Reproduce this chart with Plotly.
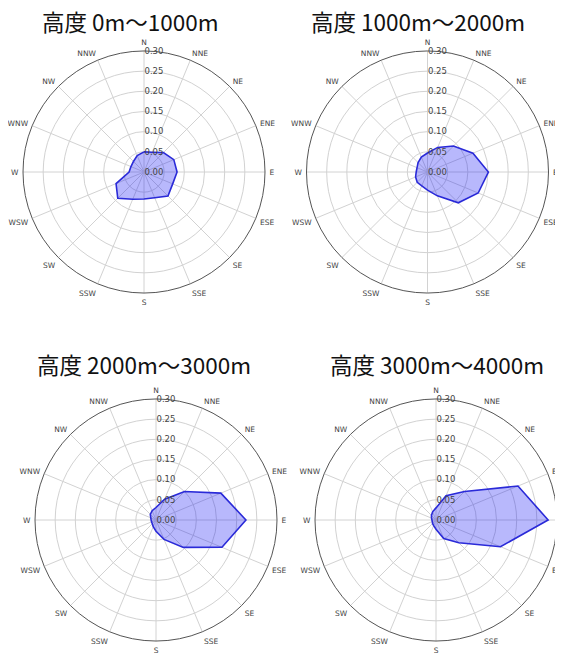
import plotly.graph_objects as go

directions = ["N", "NNE", "NE", "ENE", "E", "ESE", "SE", "SSE",
              "S", "SSW", "SW", "WSW", "W", "WNW", "NW", "NNW"]

titles = ["高度 0m～1000m", "高度 1000m～2000m", "高度 2000m～3000m", "高度 3000m～4000m"]

freq_0_1000 = [0.050, 0.053, 0.068, 0.080, 0.082, 0.077, 0.084, 0.069,
               0.067, 0.073, 0.092, 0.075, 0.037, 0.035, 0.037, 0.044]
freq_1000_2000 = [0.047, 0.066, 0.091, 0.122, 0.151, 0.136, 0.108, 0.064,
                  0.045, 0.037, 0.036, 0.032, 0.028, 0.028, 0.033, 0.040]
freq_2000_3000 = [0.031, 0.056, 0.100, 0.174, 0.223, 0.177, 0.096, 0.052,
                  0.028, 0.018, 0.013, 0.012, 0.012, 0.014, 0.020, 0.025]
freq_3000_4000 = [0.030, 0.065, 0.100, 0.220, 0.278, 0.173, 0.080, 0.050,
                  0.023, 0.015, 0.012, 0.010, 0.010, 0.012, 0.016, 0.022]

radial_ticks = [0.00, 0.05, 0.10, 0.15, 0.20, 0.25, 0.30]

series = [freq_0_1000, freq_1000_2000, freq_2000_3000, freq_3000_4000]

W, H = 563, 655
OFF = 8  # page body margin offset
# centers (screen px) and radius of each polar panel
centers = [(144, 172), (427.5, 172), (156, 520), (436, 520)]
R = 121
title_pos = [(130, 21), (418, 21), (144, 364), (436.5, 364)]

fig = go.Figure()
layout = dict(width=W, height=H, margin=dict(l=0, r=0, t=0, b=0),
              paper_bgcolor="white", plot_bgcolor="white", showlegend=False,
              font=dict(family="DejaVu Sans", color="#444"))
annotations = []
for i, vals in enumerate(series):
    name = "polar" if i == 0 else f"polar{i+1}"
    cx, cy = centers[i]
    cx -= OFF
    cy -= OFF
    fig.add_trace(go.Scatterpolar(
        r=vals + [vals[0]], theta=directions + [directions[0]],
        mode="lines", fill="toself",
        fillcolor="rgba(20,20,245,0.30)",
        line=dict(color="#2a2ad8", width=1.6),
        subplot=name, hoverinfo="skip"))
    layout[name] = dict(
        domain=dict(x=[(cx - R) / W, (cx + R) / W],
                    y=[(H - cy - R) / H, (H - cy + R) / H]),
        bgcolor="white",
        angularaxis=dict(direction="clockwise", rotation=90,
                         type="category", categoryarray=directions,
                         showline=True, linecolor="#555", linewidth=1,
                         gridcolor="#d2d2d2", gridwidth=1,
                         ticks="outside", ticklen=2.5, tickcolor="rgba(0,0,0,0)",
                         tickfont=dict(size=7.5, color="#444")),
        radialaxis=dict(range=[0, 0.30], tickvals=radial_ticks,
                        tickformat=".2f", angle=90, tickangle=90,
                        showline=False, gridcolor="#d2d2d2", gridwidth=1,
                        ticks="", tickfont=dict(size=8.5, color="#444")),
    )
    tx, ty = title_pos[i]
    annotations.append(dict(text=titles[i], x=(tx - OFF) / W, y=1 - (ty - OFF) / H,
                            xref="paper", yref="paper", showarrow=False,
                            xanchor="center", yanchor="middle",
                            font=dict(family="Noto Sans CJK JP", size=22.5, color="#111")))
layout["annotations"] = annotations
fig.update_layout(**layout)
fig.write_html("out.html")
